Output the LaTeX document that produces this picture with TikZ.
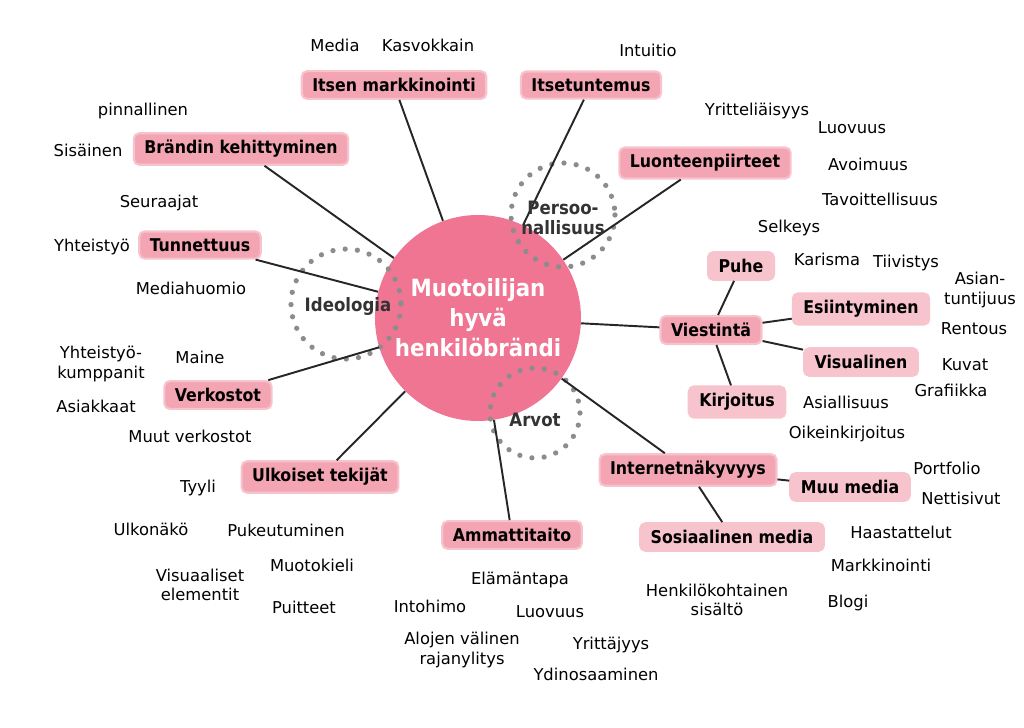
\documentclass[tikz,border=0pt]{standalone}
\usepackage{fontspec}
\setmainfont{DejaVu Sans}
\newfontfamily\condbold{DejaVu Sans Condensed}
\usetikzlibrary{positioning}

\definecolor{corepink}{HTML}{EF7593}
\definecolor{boxpink}{HTML}{F3A5B3}
\definecolor{lightpink}{HTML}{F7C3CC}
\definecolor{dotgray}{HTML}{8C8C8C}

\tikzset{
  topic/.style={fill=boxpink, draw=lightpink, line width=1.2pt, rounded corners=3pt,
    inner xsep=6pt, inner ysep=4pt, font=\condbold\bfseries\fontsize{10}{12}\selectfont},
  subtopic/.style={topic, fill=lightpink},
  word/.style={font=\fontsize{9.3}{11}\selectfont, align=center},
  ring/.style={draw=dotgray, line width=3pt, dash pattern=on 0pt off 7pt, line cap=round},
  ringlabel/.style={font=\condbold\bfseries\fontsize{10.5}{11}\selectfont, text=black!80, align=center},
  link/.style={line width=1.1pt, black!85}
}

\begin{document}
\begin{tikzpicture}[x=0.02cm,y=-0.02cm]
\useasboundingbox (0,0) rectangle (1024,727);

% core
\node[circle, fill=corepink, minimum size=206*0.02cm, align=center, text=white,
  font=\condbold\bfseries\fontsize{13.5}{17}\selectfont] (core) at (478,318)
  {Muotoilijan\\hyvä\\henkilöbrändi};

% dotted rings
\draw[ring] (563,215) circle (52);
\draw[ring] (346,304) circle (55);
\draw[ring] (535,413) circle (45);

% topics
\node[topic] (markk) at (394,85) {Itsen markkinointi};
\node[topic] (ituns) at (591,85) {Itsetuntemus};
\node[topic] (brand) at (241,149) {Brändin kehittyminen};
\node[topic] (luont) at (705,163) {Luonteenpiirteet};
\node[topic] (tunne) at (200,245) {Tunnettuus};
\node[topic] (viest) at (711,330) {Viestintä};
\node[topic] (verko) at (218,395) {Verkostot};
\node[topic] (ulkoi) at (320,477) {Ulkoiset tekijät};
\node[topic] (ammat) at (512,535) {Ammattitaito};
\node[topic] (inter) at (688,470) {Internetnäkyvyys};

% subtopics
\node[subtopic] (puhe) at (741,266) {Puhe};
\node[subtopic] (esiin) at (861,309) {Esiintyminen};
\node[subtopic] (visu) at (861,362) {Visualinen};
\node[subtopic] (kirj) at (737,402) {Kirjoitus};
\node[subtopic] (muum) at (850,487) {Muu media};
\node[subtopic] (some) at (732,537) {Sosiaalinen media};

% links
\foreach \t in {markk,ituns,brand,luont,tunne,viest,verko,ulkoi,ammat,inter}
  \draw[link] (core) -- (\t);
\foreach \s in {puhe,esiin,visu,kirj}
  \draw[link] (viest) -- (\s);
\foreach \s in {muum,some}
  \draw[link] (inter) -- (\s);

% ring labels
\node[ringlabel] (lpers) at (563,218) {Persoo-\\nallisuus};
\node[ringlabel] (lideo) at (348,306) {Ideologia};
\node[ringlabel] (larvo) at (535,420) {Arvot};

% words
\foreach \p/\txt in {
  {(335,45)}/Media, {(428,45)}/Kasvokkain, {(648,50)}/Intuitio,
  {(143,111)}/pinnallinen, {(757,111)}/Yritteliäisyys, {(852,128)}/Luovuus,
  {(88,150)}/Sisäinen, {(868,164)}/Avoimuus, {(880,199)}/Tavoittellisuus,
  {(159,203)}/Seuraajat, {(789,228)}/Selkeys, {(92,247)}/Yhteistyö,
  {(827,259)}/Karisma, {(906,263)}/Tiivistys, {(980,290)}/{Asian-\\tuntijuus},
  {(191,288)}/Mediahuomio, {(974,329)}/Rentous, {(101,364)}/{Yhteistyö-\\kumppanit},
  {(200,357)}/Maine, {(965,365)}/Kuvat, {(951,390)}/Grafiikka,
  {(96,406)}/Asiakkaat, {(846,402)}/Asiallisuus, {(190,436)}/Muut verkostot,
  {(847,434)}/Oikeinkirjoitus, {(947,468)}/Portfolio, {(198,488)}/Tyyli,
  {(961,498)}/Nettisivut, {(151,529)}/Ulkonäkö, {(286,530)}/Pukeutuminen,
  {(901,532)}/Haastattelut, {(312,565)}/Muotokieli, {(881,565)}/Markkinointi,
  {(200,585)}/{Visuaaliset\\elementit}, {(520,580)}/Elämäntapa,
  {(717,600)}/{Henkilökohtainen\\sisältö}, {(848,603)}/Blogi, {(304,607)}/Puitteet,
  {(430,606)}/Intohimo, {(550,612)}/Luovuus, {(462,650)}/{Alojen välinen\\rajanylitys},
  {(611,645)}/Yrittäjyys, {(596,674)}/Ydinosaaminen}
  \node[word] at \p {\txt};

\end{tikzpicture}
\end{document}
